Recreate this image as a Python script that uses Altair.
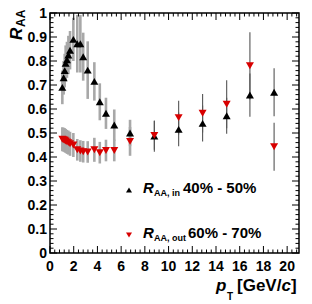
import altair as alt
import pandas as pd

# ---- data ----
pt = [1.04, 1.15, 1.24, 1.32, 1.43, 1.55, 1.69, 1.97, 2.3, 2.56, 2.8, 3.18, 3.74,
      4.2, 4.72, 5.42, 6.75, 8.8, 10.85, 12.87, 14.9, 16.86, 18.9]
r_in = [0.69, 0.73, 0.76, 0.79, 0.805, 0.825, 0.845, 0.89, 0.872, 0.872, 0.818, 0.762,
        0.715, 0.63, 0.582, 0.533, 0.50, 0.487, 0.515, 0.54, 0.572, 0.658, 0.67]
err_in = [0.07, 0.07, 0.07, 0.075, 0.075, 0.08, 0.08, 0.09, 0.12, 0.12, 0.1, 0.12,
          0.08, 0.077, 0.065, 0.065, 0.055, 0.065, 0.07, 0.075, 0.075, 0.09, 0.1]
r_out = [0.474, 0.472, 0.47, 0.467, 0.463, 0.46, 0.455, 0.45, 0.43, 0.425, 0.422, 0.421,
         0.43, 0.418, 0.427, 0.427, 0.465, 0.49, 0.564, 0.582, 0.62, 0.78, 0.443]
err_out = [0.05, 0.05, 0.05, 0.05, 0.05, 0.05, 0.05, 0.05, 0.045, 0.045, 0.045, 0.045,
           0.05, 0.045, 0.045, 0.045, 0.06, 0.06, 0.07, 0.08, 0.1, 0.14, 0.1]

x_major = list(range(0, 21, 2))
x_minor = [round(i * 0.4, 1) for i in range(53) if i % 5]
y_major = [round(i * 0.1, 1) for i in range(11)]
y_minor = [round(i * 0.02, 2) for i in range(51) if i % 5]
x_tick_labels = [str(v) for v in x_major]
y_tick_labels = ["0", "0.1", "0.2", "0.3", "0.4", "0.5", "0.6", "0.7", "0.8", "0.9", "1"]

W, H = 249, 240
XMAX, YMAX = 21, 1
FONT = "Liberation Sans"
RED = "#d80000"

xs = alt.Scale(domain=[0, XMAX], nice=False, zero=False)
ys = alt.Scale(domain=[0, YMAX], nice=False, zero=False)

rows = []
for p, v, e in zip(pt, r_in, err_in):
    rows.append({"pt": p, "r": v, "lo": v - e, "hi": v + e, "s": "in"})
for p, v, e in zip(pt, r_out, err_out):
    rows.append({"pt": p, "r": v, "lo": v - e, "hi": v + e, "s": "out"})
df = pd.DataFrame(rows)

base = alt.Chart(df)

err_low = base.transform_filter("datum.pt < 8").mark_rule(
    color="#a8a8a8", strokeWidth=2.6
).encode(
    x=alt.X("pt:Q", scale=xs, axis=None),
    y=alt.Y("lo:Q", scale=ys, axis=None),
    y2="hi:Q",
)
err_high = base.transform_filter("datum.pt >= 8").mark_rule(
    color="#555555", strokeWidth=1.1
).encode(
    x=alt.X("pt:Q", scale=xs, axis=None),
    y=alt.Y("lo:Q", scale=ys, axis=None),
    y2="hi:Q",
)

pts_in = base.transform_filter("datum.s == 'in'").mark_point(
    shape="triangle-up", filled=True, color="black", size=64, opacity=1
).encode(x=alt.X("pt:Q", scale=xs, axis=None), y=alt.Y("r:Q", scale=ys, axis=None))
pts_out = base.transform_filter("datum.s == 'out'").mark_point(
    shape="triangle-down", filled=True, color=RED, size=64, opacity=1
).encode(x=alt.X("pt:Q", scale=xs, axis=None), y=alt.Y("r:Q", scale=ys, axis=None))

# ---- inward ticks on all four sides (lengths converted from px to data units) ----
tick_rows_x = []
for vals, length in ((x_major, 7), (x_minor, 3.5)):
    ly = length / H * YMAX
    for v in vals:
        tick_rows_x.append({"v": v, "a": 0.0, "b": ly})
        tick_rows_x.append({"v": v, "a": YMAX, "b": YMAX - ly})
tick_rows_y = []
for vals, length in ((y_major, 7), (y_minor, 3.5)):
    lx = length / W * XMAX
    for v in vals:
        tick_rows_y.append({"v": v, "a": 0.0, "b": lx})
        tick_rows_y.append({"v": v, "a": XMAX, "b": XMAX - lx})

xt = alt.Chart(pd.DataFrame(tick_rows_x)).mark_rule(color="black", strokeWidth=1).encode(
    x=alt.X("v:Q", scale=xs, axis=None),
    y=alt.Y("a:Q", scale=ys, axis=None),
    y2="b:Q",
)
yt = alt.Chart(pd.DataFrame(tick_rows_y)).mark_rule(color="black", strokeWidth=1).encode(
    y=alt.Y("v:Q", scale=ys, axis=None),
    x=alt.X("a:Q", scale=xs, axis=None),
    x2="b:Q",
)

# ---- tick labels ----
xlab = alt.Chart(pd.DataFrame({"v": x_major, "t": x_tick_labels})).mark_text(
    font=FONT, fontSize=14, fontWeight="bold", color="black", align="center", baseline="alphabetic"
).encode(x=alt.X("v:Q", scale=xs, axis=None), y=alt.value(H + 18), text="t:N")
ylab = alt.Chart(pd.DataFrame({"v": y_major, "t": y_tick_labels})).mark_text(
    font=FONT, fontSize=14, fontWeight="bold", color="black", align="right", baseline="alphabetic",
    dy=5
).encode(y=alt.Y("v:Q", scale=ys, axis=None), x=alt.value(-3), text="t:N")

one = pd.DataFrame({"a": [0]})


def txt(s, x, y, size, italic=False, angle=0, align="left", color="black"):
    kw = dict(text=s, font=FONT, fontSize=size, fontWeight="bold", align=align,
              baseline="alphabetic", color=color)
    if italic:
        kw["fontStyle"] = "italic"
    if angle:
        kw["angle"] = angle
    return alt.Chart(one).mark_text(**kw).encode(x=alt.value(x), y=alt.value(y))


def marker(shape, color, x, y):
    return alt.Chart(one).mark_point(shape=shape, filled=True, color=color, size=36, opacity=1).encode(
        x=alt.value(x), y=alt.value(y))


texts = [
    # y title  R_AA
    txt("R", -28, 27, 17, italic=True, angle=270),
    txt("AA", -25, 14, 12, angle=270),
    # x title  p_T [GeV/c]
    txt("p", 166, 278, 17, italic=True),
    txt("T", 177, 287, 10),
    txt("[GeV/", 187, 278, 17),
    txt("c", 231.5, 278, 17, italic=True),
    txt("]", 241, 278, 17),
    # legend
    marker("triangle-up", "black", 79, 177),
    txt("R", 93, 180, 15, italic=True),
    txt("AA, in", 104, 183, 9),
    txt("40% - 50%", 133, 180, 15),
    marker("triangle-down", RED, 79, 222),
    txt("R", 93, 225, 15, italic=True),
    txt("AA, out", 104, 228, 9),
    txt("60% - 70%", 138, 225, 15),
]

layers = [err_low, err_high, pts_in, pts_out, xt, yt, xlab, ylab] + texts

chart = alt.layer(*layers).properties(
    width=W, height=H,
    autosize=alt.AutoSizeParams(type="none"),
    padding={"left": 42, "top": 5, "right": 5, "bottom": 48},
    background="white",
).configure_view(stroke="black", strokeWidth=1.5)

chart.save("out.html", embed_options={"renderer": "svg", "actions": False})
